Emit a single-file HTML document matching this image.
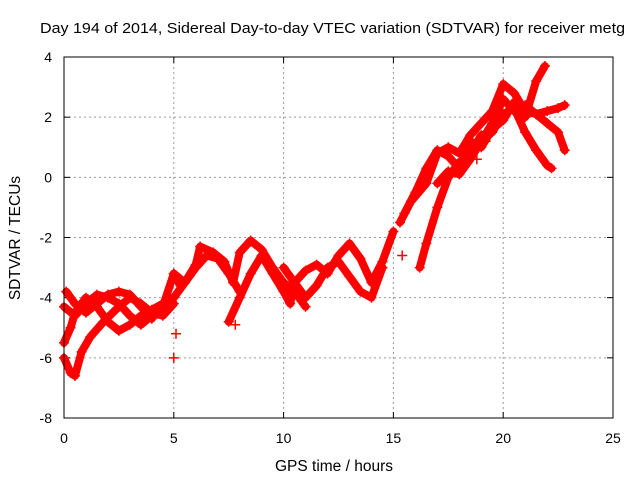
<!DOCTYPE html>
<html><head><meta charset="utf-8"><style>
body{margin:0;background:#fff;}
svg{display:block;font-family:"Liberation Sans",sans-serif;}
</style></head><body>
<svg id="chart" width="640" height="480">
<text x="40" y="33" font-size="15" textLength="585" lengthAdjust="spacingAndGlyphs">Day 194 of 2014, Sidereal Day-to-day VTEC variation (SDTVAR) for receiver metg</text>
<text x="334" y="471" font-size="15.5" text-anchor="middle">GPS time / hours</text>
<text transform="translate(20,238) rotate(-90)" font-size="15.5" text-anchor="middle">SDTVAR / TECUs</text>
<g id="grid"></g><g id="ticks"></g><g id="marks"></g>
<rect x="64" y="57" width="549" height="361" fill="none" stroke="#000" stroke-width="1"/>
</svg>
<script>
const xTicks=[0,5,10,15,20,25];
const yTicks=[-8,-6,-4,-2,0,2,4];
const track1=[[0,-4.3],[0.5,-4.6],[1,-4.2],[1.5,-3.9],[2,-4.0],[2.5,-4.2],[3,-4.6],[3.5,-4.9],[4,-4.6],[4.5,-4.3],[5,-3.2],[5.3,-3.6]];
const track2=[[0,-5.5],[0.3,-5.0],[0.5,-4.5],[1,-4.0],[1.5,-4.3],[2,-4.8],[2.5,-5.1],[3,-4.9],[3.5,-4.6],[4,-4.4],[4.5,-4.2],[5,-4.0],[5.5,-3.5],[6,-3.0],[6.5,-2.6],[7,-2.7],[7.5,-3.2],[8,-3.8]];
const track3=[[0,-6.0],[0.3,-6.5],[0.5,-6.6],[0.8,-5.8],[1.2,-5.3],[1.8,-4.8],[2.5,-4.3],[3,-4.0],[3.5,-4.2],[4,-4.5],[4.5,-4.6],[5,-4.2]];
const track4=[[0.1,-3.8],[0.5,-4.2],[1,-4.5],[1.5,-4.2],[2,-3.9],[2.5,-3.8],[3,-3.9],[3.5,-4.3],[4,-4.7]];
const track5=[[5,-3.2],[5.5,-3.5],[6,-2.9],[6.2,-2.3],[6.8,-2.5],[7.3,-2.8],[7.7,-3.5],[8,-2.5],[8.5,-2.1],[9,-2.4],[9.5,-3.0],[10,-3.5],[10.5,-3.8],[11,-4.3]];
const track6=[[7.5,-4.8],[8,-4.0],[8.5,-3.2],[9,-2.6],[9.5,-3.2],[10,-3.8],[10.3,-4.2],[10.5,-3.5],[11,-3.1],[11.5,-2.9],[12,-3.2],[12.5,-2.6],[13,-2.2],[13.5,-2.7],[14,-3.5],[14.5,-2.8],[15,-1.8]];
const track7=[[10,-3.0],[10.5,-3.5],[11,-4.0],[11.5,-3.6],[12,-3.0],[12.5,-2.8],[13,-3.3],[13.5,-3.8],[14,-4.0],[14.5,-3.0]];
const track8=[[15.3,-1.5],[15.8,-0.8],[16.5,-0.2],[17,0.8],[17.5,1.0],[18,0.8],[18.5,1.4],[19,1.8],[19.5,2.2],[20,3.1],[20.5,2.8],[21,2.2],[21.5,2.1],[22,2.2],[22.5,2.3],[22.8,2.4]];
const track9=[[15.5,-1.2],[16,-0.5],[16.5,0.3],[17,0.9],[17.5,0.7],[18,0.3],[18.5,1.2],[19,1.0],[19.5,1.6],[20,1.9],[20.5,2.5],[21,2.0],[21.5,3.2],[21.9,3.7]];
const track10=[[16.2,-3.0],[16.5,-2.2],[17,-1.0],[17.5,0],[18,0.5],[18.5,0.8],[19,1.4],[19.5,1.5],[20,2.1],[20.5,2.3],[21,1.5],[21.5,0.9],[22,0.4],[22.2,0.3]];
const track11=[[17,-0.2],[17.5,0.2],[18,0.1],[18.5,0.6],[19,1.2],[19.5,1.8],[20,2.6],[20.5,2.2],[21,2.4],[21.5,2.1],[22,1.8],[22.5,1.5],[22.8,0.9]];
const outliers=[[5,-6.0],[5.1,-5.2],[7.8,-4.9],[15.4,-2.6],[18.8,0.6],[19.2,1.2]];
const tracks=[track1,track2,track3,track4,track5,track6,track7,track8,track9,track10,track11];
const NS='http://www.w3.org/2000/svg';
const X=t=>64+t*549/25, Y=v=>418-(v+8)*361/12;
function mk(tag,attrs,parent){const e=document.createElementNS(NS,tag);for(const k in attrs)e.setAttribute(k,attrs[k]);parent.appendChild(e);return e;}
const grid=document.getElementById('grid'),ticks=document.getElementById('ticks'),marks=document.getElementById('marks');
xTicks.forEach(t=>{
 if(t>0&&t<25){const g=mk('line',{x1:X(t),x2:X(t),y1:57,y2:418,stroke:'#999','stroke-dasharray':'2,3'},grid);
 
 }
 mk('line',{x1:X(t),x2:X(t),y1:418,y2:412,stroke:'#000'},ticks);
 mk('line',{x1:X(t),x2:X(t),y1:57,y2:63,stroke:'#000'},ticks);
 const l=mk('text',{x:X(t),y:443,'font-size':14,'text-anchor':'middle'},ticks);l.textContent=t;
 
 
});
yTicks.forEach(v=>{
 if(v>-8&&v<4){const g=mk('line',{x1:64,x2:613,y1:Y(v),y2:Y(v),stroke:'#999','stroke-dasharray':'2,3'},grid);
 
 }
 mk('line',{x1:64,x2:70,y1:Y(v),y2:Y(v),stroke:'#000'},ticks);
 mk('line',{x1:613,x2:607,y1:Y(v),y2:Y(v),stroke:'#000'},ticks);
 const l=mk('text',{x:52,y:Y(v)+5,'font-size':14,'text-anchor':'end'},ticks);l.textContent=v;
 
 
});
tracks.forEach((tr,i)=>{
 const p=mk('polyline',{points:tr.map(d=>X(d[0])+','+Y(d[1])).join(' '),fill:'none',stroke:'#f00','stroke-width':8,'stroke-linejoin':'round','stroke-linecap':'round'},marks);
 
 
});
function plus(d){const x=X(d[0]),y=Y(d[1]);
 const p=mk('path',{d:`M${x-5},${y}H${x+5}M${x},${y-5}V${y+5}`,stroke:'#f00','stroke-width':1.5},marks);
 
 }
tracks.forEach(tr=>tr.forEach(plus));
outliers.forEach(plus);
</script>
</body></html>
